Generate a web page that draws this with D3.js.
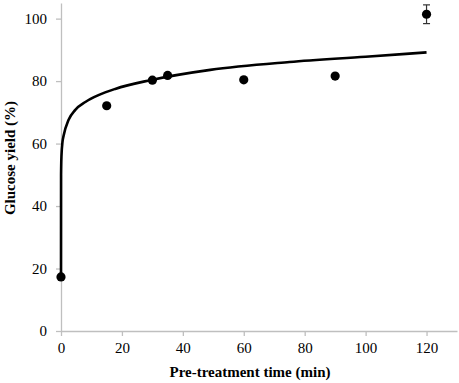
<!DOCTYPE html>
<html>
<head>
<meta charset="utf-8">
<script src="https://cdn.jsdelivr.net/npm/d3@7"></script>
<style>
  body { margin: 0; background: #fff; }
  svg { display: block; }
  svg text { font-family: "Liberation Serif", "Times New Roman", Times, serif; }
</style>
</head>
<body>
<div id="chart-container"></div>
<script>
// measured points
const times = [0, 15, 30, 35, 60, 90, 120];
const yields = [17.3, 72.1, 80.3, 81.8, 80.4, 81.6, 101.4];
const yieldErrors = [0, 0, 0, 0, 0, 0, 3.0];

// fitted curve
const curveTimes = [0, 0.02, 0.15, 0.5, 0.85, 2.5, 4.7, 8, 12.3, 17.8, 29.3, 49, 75, 100, 120];
const curveYields = [17.3, 50, 56, 60.6, 62.5, 67.6, 70.8, 73.3, 75.5, 77.5, 80.3, 83.6, 86.1, 87.8, 89.2];

const xTicks = [0, 20, 40, 60, 80, 100, 120];
const yTicks = [0, 20, 40, 60, 80, 100];

const width = 459;
const height = 383;
const margin = { top: 3, right: 2, bottom: 52, left: 61 };
const serif = '"Liberation Serif", "Times New Roman", Times, serif';

const x = d3.scaleLinear()
  .domain([0, 130])
  .range([margin.left, width - margin.right]);

const y = d3.scaleLinear()
  .domain([0, 105])
  .range([height - margin.bottom, margin.top]);

const svg = d3.select('#chart-container')
  .append('svg')
  .attr('width', width)
  .attr('height', height);

// axes
const xAxis = svg.append('g')
  .attr('class', 'x-axis')
  .attr('transform', `translate(0,${y(0)})`)
  .call(d3.axisBottom(x).tickValues(xTicks).tickSize(5).tickSizeOuter(0).tickPadding(6));

const yAxis = svg.append('g')
  .attr('class', 'y-axis')
  .attr('transform', `translate(${x(0)},0)`)
  .call(d3.axisLeft(y).tickValues(yTicks).tickSize(5).tickSizeOuter(0).tickPadding(9));

[xAxis, yAxis].forEach(ax => {
  ax.attr('font-family', serif).attr('font-size', 15);
  ax.select('.domain').attr('stroke', '#bfbfbf').attr('stroke-width', 1.3);
  ax.selectAll('.tick line').attr('stroke', '#bfbfbf').attr('stroke-width', 1.3);
  ax.selectAll('.tick text').attr('fill', '#000');
});

// fitted line
const curveData = curveTimes.map((t, i) => [t, curveYields[i]]);
svg.append('path')
  .datum(curveData)
  .attr('fill', 'none')
  .attr('stroke', '#000')
  .attr('stroke-width', 2.6)
  .attr('d', d3.line()
    .x(d => x(d[0]))
    .y(d => y(d[1]))
    .curve(d3.curveMonotoneX));

// error bars
const points = times.map((t, i) => ({ t: t, v: yields[i], e: yieldErrors[i] }));
const errs = svg.append('g').attr('class', 'errors')
  .selectAll('g')
  .data(points.filter(d => d.e > 0))
  .enter().append('g')
  .attr('stroke', '#333')
  .attr('stroke-width', 1.2);

errs.append('line')
  .attr('x1', d => x(d.t)).attr('x2', d => x(d.t))
  .attr('y1', d => y(d.v + d.e)).attr('y2', d => y(d.v - d.e));
errs.append('line')
  .attr('x1', d => x(d.t) - 3.5).attr('x2', d => x(d.t) + 3.5)
  .attr('y1', d => y(d.v + d.e)).attr('y2', d => y(d.v + d.e));
errs.append('line')
  .attr('x1', d => x(d.t) - 3.5).attr('x2', d => x(d.t) + 3.5)
  .attr('y1', d => y(d.v - d.e)).attr('y2', d => y(d.v - d.e));

// markers
svg.append('g').attr('class', 'points')
  .selectAll('circle')
  .data(points)
  .enter().append('circle')
  .attr('cx', d => x(d.t))
  .attr('cy', d => y(d.v))
  .attr('r', 4.6)
  .attr('fill', '#000');

// axis titles
svg.append('text')
  .attr('x', 250)
  .attr('y', 377)
  .attr('text-anchor', 'middle')
  .attr('font-family', serif)
  .attr('font-size', 15)
  .attr('font-weight', 'bold')
  .text('Pre-treatment time (min)');

svg.append('text')
  .attr('transform', `translate(15,158) rotate(-90)`)
  .attr('text-anchor', 'middle')
  .attr('font-family', serif)
  .attr('font-size', 15)
  .attr('font-weight', 'bold')
  .text('Glucose yield (%)');
</script>
</body>
</html>
